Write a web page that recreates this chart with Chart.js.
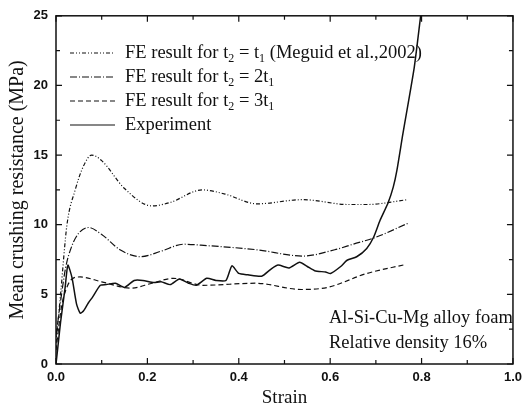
<!DOCTYPE html>
<html>
<head>
<meta charset="utf-8">
<script src="https://cdn.jsdelivr.net/npm/chart.js@4/dist/chart.umd.min.js"></script>
<style>
  html, body { margin: 0; padding: 0; background: #fff; }
  #wrap { width: 528px; height: 413px; }
</style>
</head>
<body>
<div id="wrap"><canvas id="crush-chart" width="528" height="413"></canvas></div>
<script>
// values
var strainT1 = [0, 0.01, 0.024, 0.042, 0.06, 0.078, 0.1, 0.15, 0.21, 0.25, 0.32, 0.37, 0.44, 0.54, 0.64, 0.68, 0.77];
var resistT1 = [1.5, 5.0, 10.0, 12.5, 14.2, 15.0, 14.6, 12.6, 11.35, 11.6, 12.5, 12.2, 11.5, 11.8, 11.45, 11.45, 11.8];

var strainT2 = [0, 0.01, 0.021, 0.035, 0.05, 0.071, 0.1, 0.14, 0.185, 0.23, 0.28, 0.33, 0.44, 0.54, 0.61, 0.65, 0.7, 0.77];
var resistT2 = [2.0, 4.5, 6.9, 8.5, 9.4, 9.8, 9.3, 8.2, 7.7, 8.1, 8.6, 8.5, 8.2, 7.75, 8.2, 8.6, 9.1, 10.1];

var strainT3 = [0, 0.012, 0.025, 0.04, 0.053, 0.1, 0.164, 0.21, 0.257, 0.322, 0.437, 0.537, 0.594, 0.68, 0.766];
var resistT3 = [1.0, 4.1, 5.6, 6.2, 6.25, 5.9, 5.45, 5.8, 6.15, 5.65, 5.8, 5.35, 5.5, 6.5, 7.15];

var strainExp = [0, 0.005, 0.01, 0.02, 0.026, 0.035, 0.045, 0.053, 0.06, 0.071, 0.08, 0.097, 0.11, 0.13, 0.15, 0.171,
  0.19, 0.214, 0.23, 0.25, 0.27, 0.29, 0.307, 0.33, 0.35, 0.372, 0.385, 0.40, 0.42, 0.45, 0.47, 0.486, 0.51, 0.533,
  0.55, 0.566, 0.59, 0.601, 0.623, 0.637, 0.658, 0.68, 0.695, 0.709, 0.727, 0.738, 0.746, 0.759, 0.784, 0.798];
var resistExp = [0, 1.5, 3.0, 5.5, 7.1, 6.2, 4.3, 3.65, 3.8, 4.4, 4.8, 5.65, 5.7, 5.8, 5.5, 6.0,
  6.0, 5.85, 5.9, 5.7, 6.1, 5.8, 5.65, 6.15, 6.0, 6.0, 7.05, 6.5, 6.4, 6.3, 6.8, 7.1, 6.9, 7.3,
  7.0, 6.7, 6.6, 6.5, 7.0, 7.45, 7.7, 8.3, 9.1, 10.3, 11.6, 12.7, 13.9, 16.5, 21.3, 25.0];

var xTicks = [0, 0.2, 0.4, 0.6, 0.8, 1.0];
var yTicks = [0, 5, 10, 15, 20, 25];

function pairs(xs, ys) {
  return xs.map(function(x, i) { return { x: x, y: ys[i] }; });
}

var serif = '"Liberation Serif", "Times New Roman", serif';
var ink = '#111';

var legendRows = [
  { dash: [4, 2, 1, 2, 1, 2], parts: [['FE result for t'], ['2', 1], [' = t'], ['1', 1], [' (Meguid et al.,2002)']] },
  { dash: [7, 2, 1, 2], parts: [['FE result for t'], ['2', 1], [' = 2t'], ['1', 1]] },
  { dash: [5, 3], parts: [['FE result for t'], ['2', 1], [' = 3t'], ['1', 1]] },
  { dash: [], parts: [['Experiment']] }
];

// inward ticks, frame, legend and note drawn on top
var framePlugin = {
  id: 'frame',
  afterDraw: function(chart) {
    var ctx = chart.ctx;
    var a = chart.chartArea;
    var xs = chart.scales.x, ys = chart.scales.y;
    ctx.save();
    ctx.strokeStyle = ink;
    ctx.lineWidth = 1.5;
    ctx.setLineDash([]);
    ctx.strokeRect(a.left, a.top, a.right - a.left, a.bottom - a.top);
    ctx.lineWidth = 1.2;
    var v, p, len;
    for (v = 0; v <= 10; v++) {
      p = xs.getPixelForValue(v / 10);
      len = v % 2 === 0 ? 6 : 4;
      ctx.beginPath();
      ctx.moveTo(p, a.bottom); ctx.lineTo(p, a.bottom - len);
      ctx.moveTo(p, a.top); ctx.lineTo(p, a.top + len);
      ctx.stroke();
    }
    for (v = 0; v <= 10; v++) {
      p = ys.getPixelForValue(v * 2.5);
      len = v % 2 === 0 ? 6 : 4;
      ctx.beginPath();
      ctx.moveTo(a.left, p); ctx.lineTo(a.left + len, p);
      ctx.moveTo(a.right, p); ctx.lineTo(a.right - len, p);
      ctx.stroke();
    }

    // legend
    ctx.fillStyle = ink;
    ctx.textBaseline = 'middle';
    ctx.textAlign = 'left';
    legendRows.forEach(function(row, i) {
      var y = 53 + i * 24;
      ctx.setLineDash(row.dash);
      ctx.lineWidth = 1.2;
      ctx.beginPath();
      ctx.moveTo(70, y); ctx.lineTo(115, y);
      ctx.stroke();
      ctx.setLineDash([]);
      var x = 125;
      row.parts.forEach(function(part) {
        if (part[1]) {
          ctx.font = '12px ' + serif;
          ctx.fillText(part[0], x, y + 6);
        } else {
          ctx.font = '18.5px ' + serif;
          ctx.fillText(part[0], x, y);
        }
        x += ctx.measureText(part[0]).width;
      });
    });

    ctx.font = '18.5px ' + serif;
    ctx.fillText('Al-Si-Cu-Mg alloy foam', 329, 318);
    ctx.fillText('Relative density 16%', 329, 343);
    ctx.restore();
  }
};

var config = {
  type: 'line',
  data: {
    datasets: [
      { label: 'FE t2 = t1', data: pairs(strainT1, resistT1), borderDash: [4, 2, 1, 2, 1, 2], borderWidth: 1.2, cubicInterpolationMode: 'monotone' },
      { label: 'FE t2 = 2t1', data: pairs(strainT2, resistT2), borderDash: [7, 2, 1, 2], borderWidth: 1.2, cubicInterpolationMode: 'monotone' },
      { label: 'FE t2 = 3t1', data: pairs(strainT3, resistT3), borderDash: [5, 3], borderWidth: 1.2, cubicInterpolationMode: 'monotone' },
      { label: 'Experiment', data: pairs(strainExp, resistExp), borderWidth: 1.5, tension: 0.2 }
    ]
  },
  options: {
    responsive: false,
    animation: false,
    parsing: false,
    borderColor: ink,
    elements: {
      point: { radius: 0 },
      line: { borderColor: ink, fill: false }
    },
    layout: {
      autoPadding: false,
      padding: { top: 14, right: 7, left: 0, bottom: 0 }
    },
    plugins: {
      legend: { display: false },
      tooltip: { enabled: false }
    },
    scales: {
      x: {
        type: 'linear',
        min: 0,
        max: 1.0,
        afterFit: function(s) { s.height = 49; },
        afterBuildTicks: function(s) { s.ticks = xTicks.map(function(v) { return { value: v }; }); },
        grid: { display: false, drawTicks: false },
        border: { display: false },
        ticks: {
          padding: 6,
          color: ink,
          font: { family: '"Liberation Sans", Arial, sans-serif', size: 13, weight: 'bold' },
          callback: function(v) { return v.toFixed(1); }
        },
        title: {
          display: true,
          text: 'Strain',
          color: ink,
          font: { family: serif, size: 19 },
          padding: { top: 0, bottom: 4 }
        }
      },
      y: {
        min: 0,
        max: 25,
        afterFit: function(s) { s.width = 56; },
        afterBuildTicks: function(s) { s.ticks = yTicks.map(function(v) { return { value: v }; }); },
        grid: { display: false, drawTicks: false },
        border: { display: false },
        ticks: {
          padding: 8,
          color: ink,
          font: { family: '"Liberation Sans", Arial, sans-serif', size: 13, weight: 'bold' },
          callback: function(v) { return String(v); }
        },
        title: {
          display: true,
          text: 'Mean crushing resistance (MPa)',
          color: ink,
          font: { family: serif, size: 20 },
          padding: { top: 6, bottom: 0 }
        }
      }
    }
  },
  plugins: [framePlugin]
};

window.onload = function() {
  var ctx = document.getElementById('crush-chart').getContext('2d');
  window.crushChart = new Chart(ctx, config);
};
</script>
</body>
</html>
